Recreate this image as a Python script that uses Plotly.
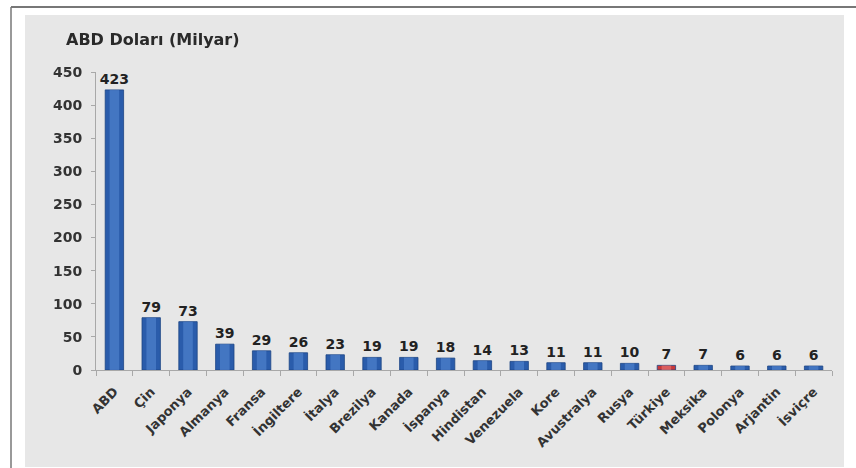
import plotly.graph_objects as go

countries = ["ABD", "Çin", "Japonya", "Almanya", "Fransa", "İngiltere", "İtalya", "Brezilya",
             "Kanada", "İspanya", "Hindistan", "Venezuela", "Kore", "Avustralya", "Rusya",
             "Türkiye", "Meksika", "Polonya", "Arjantin", "İsviçre"]
values = [423, 79, 73, 39, 29, 26, 23, 19, 19, 18, 14, 13, 11, 11, 10, 7, 7, 6, 6, 6]
highlight = "Türkiye"

base_colors = ["#c8383a" if c == highlight else "#2a5cab" for c in countries]
shine_colors = ["#e8787a" if c == highlight else "#5688d2" for c in countries]

W, H = 856, 468
L, R, T, B = 96, 24, 72, 98
pw, ph = W - L - R, H - T - B

def px(x):
    return (x - L) / pw

def py(y):
    return (H - B - y) / ph

font = "DejaVu Sans, Verdana, sans-serif"

fig = go.Figure()
fig.add_trace(go.Bar(
    x=countries, y=values, width=0.5,
    marker=dict(color=base_colors, line=dict(color="#1d4584", width=0.8)),
    text=[str(v) for v in values], textposition="outside", cliponaxis=False,
    constraintext="none",
    textfont=dict(family=font, size=14, color="#222222", weight="bold"),
    hoverinfo="x+y",
))
fig.add_trace(go.Bar(
    x=countries, y=values, width=0.26,
    marker=dict(color=shine_colors, line=dict(width=0)),
    opacity=0.6, hoverinfo="skip",
))

shapes = [
    dict(type="rect", xref="paper", yref="paper", x0=px(25), x1=px(844), y0=py(15), y1=py(467),
         fillcolor="#e7e7e7", line=dict(width=0), layer="below"),
    dict(type="line", xref="paper", yref="paper", x0=px(11), x1=px(856), y0=py(7), y1=py(7),
         line=dict(color="#777777", width=2)),
    dict(type="line", xref="paper", yref="paper", x0=px(11), x1=px(11), y0=py(7), y1=py(468),
         line=dict(color="#777777", width=1.5)),
]

fig.update_layout(
    width=W, height=H,
    margin=dict(l=L, r=R, t=T, b=B),
    paper_bgcolor="white", plot_bgcolor="rgba(0,0,0,0)",
    barmode="overlay", showlegend=False,
    shapes=shapes,
    font=dict(family=font, color="#333333"),
    annotations=[dict(text="ABD Doları (Milyar)", xref="paper", yref="paper",
                      x=px(64), y=py(39), xanchor="left", yanchor="middle", showarrow=False,
                      font=dict(family=font, size=16, color="#2a2a2a", weight="bold"))],
)
fig.update_xaxes(showline=True, linecolor="#a8a8a8", linewidth=1, ticks="outside",
                 tickson="boundaries", ticklen=5, tickcolor="#a8a8a8", tickangle=-45,
                 ticklabelstandoff=8,
                 tickfont=dict(family=font, size=13, color="#333333", weight="bold"),
                 showgrid=False, fixedrange=True)
fig.update_yaxes(range=[0, 450], dtick=50, showline=True, linecolor="#a8a8a8", linewidth=1,
                 ticks="outside", ticklen=4, tickcolor="#a8a8a8", showgrid=False, zeroline=False,
                 ticklabelstandoff=6,
                 tickfont=dict(family=font, size=14, color="#333333", weight="bold"),
                 fixedrange=True)

fig.write_html("out.html")
